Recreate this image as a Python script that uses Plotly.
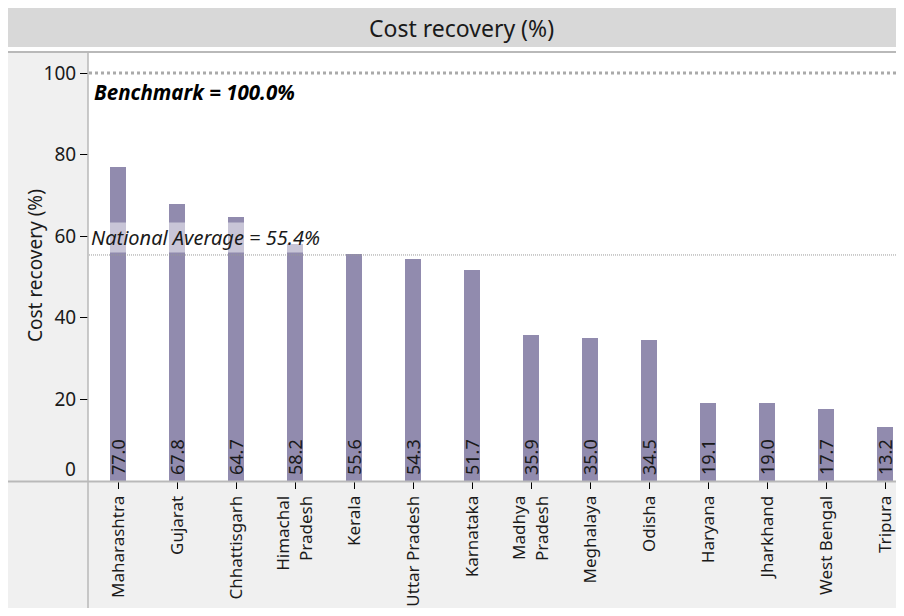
import plotly.graph_objects as go

# ---- data ----
states = ["Maharashtra", "Gujarat", "Chhattisgarh", "Himachal<br>Pradesh", "Kerala",
          "Uttar Pradesh", "Karnataka", "Madhya<br>Pradesh", "Meghalaya", "Odisha",
          "Haryana", "Jharkhand", "West Bengal", "Tripura"]
cost_recovery = [77.0, 67.8, 64.7, 58.2, 55.6, 54.3, 51.7, 35.9, 35.0, 34.5, 19.1, 19.0, 17.7, 13.2]
y_ticks = [20, 40, 60, 80, 100]
benchmark = 100.0
national_avg = 55.4

# ---- layout helpers (reference pixel -> paper); page body margin is 8px ----
OFF = 8
W, H = 904 - 2 * OFF, 616 - 2 * OFF
PLOT_L, PLOT_T, PLOT_B, PLOT_R = 89, 53, 481, 904 - OFF   # reference pixel coords of plot area
L, T = PLOT_L - OFF, PLOT_T - OFF
R = 0
B = H - (PLOT_B - OFF)
PW, PH = W - L - R, H - T - B
def px(x): return (x - OFF - L) / PW
def py(y): return (H - B - (y - OFF)) / PH

FONT = "Noto Sans"
BAR = "#918bae"
BORDER = "#b9b9b9"
TXT = "#1a1a1a"
RIGHT = 904 - OFF

fig = go.Figure()
fig.add_trace(go.Bar(
    x=list(range(len(states))), y=cost_recovery,
    marker=dict(color=BAR, line=dict(width=0)),
    width=0.27, hoverinfo="skip",
))

shapes = [
    dict(type="rect", xref="paper", yref="paper", x0=px(4), x1=px(RIGHT), y0=py(47), y1=py(8),
         fillcolor="#d8d8d8", line=dict(width=0), layer="below"),
    dict(type="rect", xref="paper", yref="paper", x0=px(7), x1=px(88), y0=py(616), y1=py(52),
         fillcolor="#f0f0f0", line=dict(width=0), layer="below"),
    dict(type="rect", xref="paper", yref="paper", x0=px(88), x1=px(RIGHT), y0=py(616), y1=py(481),
         fillcolor="#f0f0f0", line=dict(width=0), layer="below"),
    dict(type="line", xref="paper", yref="paper", x0=px(6), x1=px(RIGHT), y0=py(52), y1=py(52),
         line=dict(color=BORDER, width=2)),
    dict(type="line", xref="paper", yref="paper", x0=px(7), x1=px(7), y0=py(616), y1=py(52),
         line=dict(color=BORDER, width=2)),
    dict(type="line", xref="paper", yref="paper", x0=px(88), x1=px(88), y0=py(616), y1=py(52),
         line=dict(color=BORDER, width=1.5)),
    dict(type="line", xref="paper", yref="paper", x0=px(6), x1=px(RIGHT), y0=py(481.5), y1=py(481.5),
         line=dict(color=BORDER, width=2)),
    dict(type="line", xref="paper", yref="y", x0=0, x1=1, y0=benchmark, y1=benchmark,
         line=dict(color="#aaaaaa", width=3, dash="dot")),
    dict(type="line", xref="paper", yref="y", x0=0, x1=1, y0=national_avg, y1=national_avg,
         line=dict(color="#999999", width=1, dash="1px,1px")),
]

annotations = [
    dict(text="Cost recovery (%)", xref="paper", yref="paper", x=px(461), y=py(28),
         xanchor="center", yanchor="middle", showarrow=False,
         font=dict(family=FONT, size=23, color=TXT)),
    dict(text="Cost recovery (%)", xref="paper", yref="paper", x=px(35), y=py(266),
         xanchor="center", yanchor="middle", textangle=-90, showarrow=False,
         font=dict(family=FONT, size=19, color=TXT)),
    dict(text="0", xref="paper", yref="paper", x=px(78), y=py(469),
         xanchor="right", yanchor="middle", showarrow=False,
         font=dict(family=FONT, size=19, color=TXT)),
    dict(text="<b><i>Benchmark = %.1f%%</i></b>" % benchmark, xref="paper", yref="y",
         x=0, y=benchmark, xanchor="left", yanchor="top", xshift=3, yshift=-3,
         showarrow=False, font=dict(family=FONT, size=20.5, color="black")),
    dict(text="<i>National Average = %.1f%%</i>" % national_avg, xref="paper", yref="y",
         x=0, y=national_avg, xanchor="left", yanchor="bottom", yshift=2,
         showarrow=False, bgcolor="rgba(255,255,255,0.5)", borderpad=1,
         font=dict(family=FONT, size=20, color=TXT)),
]
for i, v in enumerate(cost_recovery):
    annotations.append(dict(
        text="%.1f" % v, x=i, y=0, xref="x", yref="y", xanchor="center", yanchor="bottom",
        yshift=4, textangle=-90, showarrow=False,
        font=dict(family=FONT, size=18, color=TXT)))

fig.update_layout(
    width=W, height=H, margin=dict(l=L, r=R, t=T, b=B, autoexpand=False),
    paper_bgcolor="white", plot_bgcolor="white", showlegend=False,
    font=dict(family=FONT, color=TXT),
    shapes=shapes, annotations=annotations,
    xaxis=dict(range=[(PLOT_L - 118) / 59, (PLOT_R - 118) / 59], tickmode="array",
               tickvals=list(range(len(states))), ticktext=states, tickangle=-90,
               tickson="boundaries", ticks="outside", ticklen=7, tickcolor="black",
               tickwidth=1, showgrid=False, zeroline=False, showline=False,
               tickfont=dict(family=FONT, size=17, color=TXT), automargin=False),
    yaxis=dict(range=[0, (PLOT_B - PLOT_T) / 4.08], tickmode="array", tickvals=y_ticks,
               ticks="outside", ticklen=8, tickcolor="black", tickwidth=1,
               showgrid=False, zeroline=False, showline=False,
               tickfont=dict(family=FONT, size=19, color=TXT), automargin=False),
    bargap=0,
)
fig.write_html("out.html")
